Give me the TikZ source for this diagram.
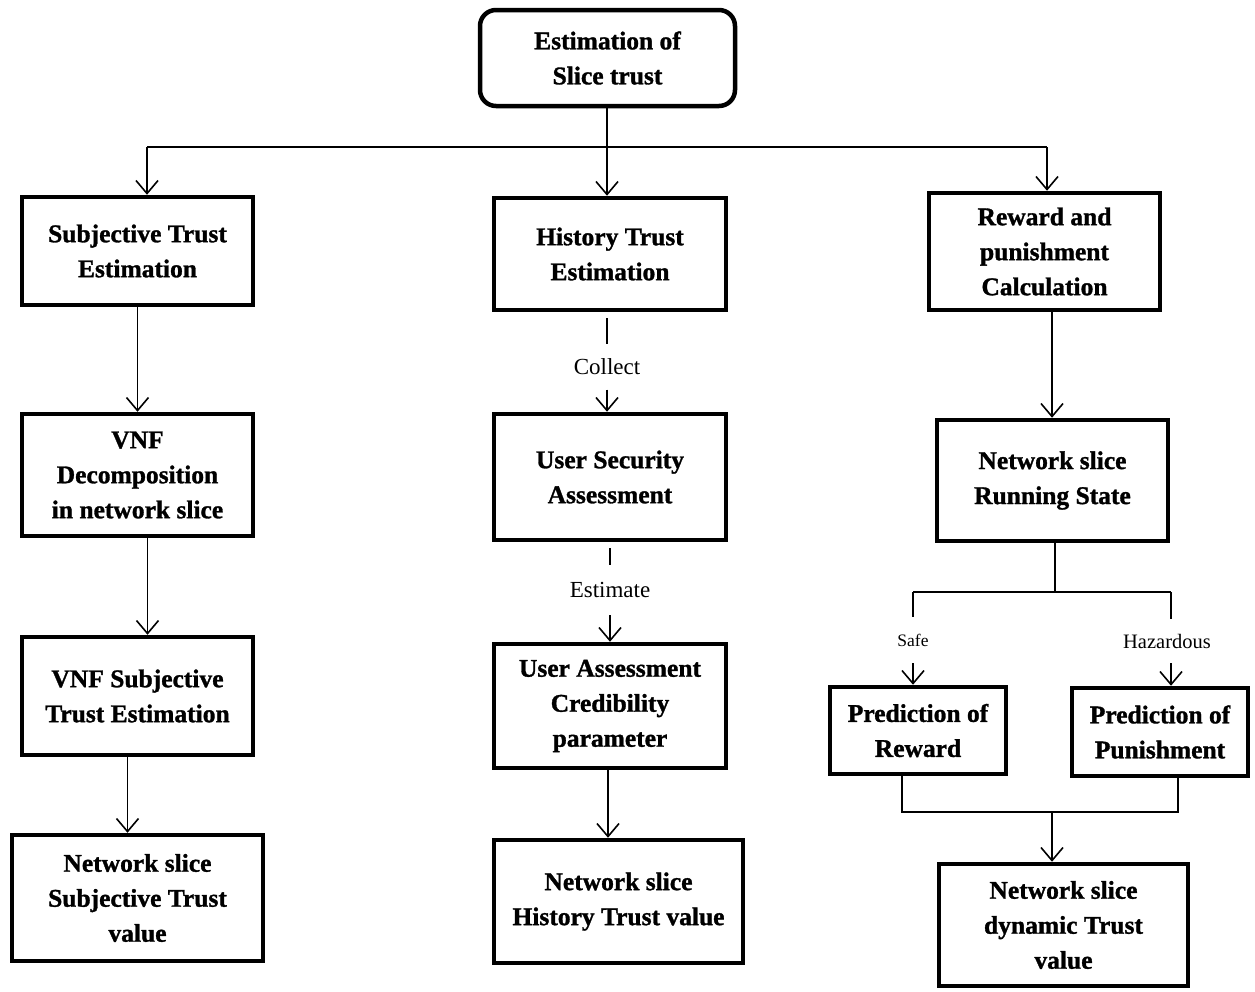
\documentclass[tikz,border=0pt]{standalone}
\usepackage{fontspec}
\setmainfont{Liberation Serif}[BoldFeatures={FakeBold=1.2}]
\usetikzlibrary{arrows.meta}
\tikzset{
  box/.style={draw, line width=4.5pt, align=center, inner sep=2pt,
    font=\bfseries\fontsize{25.5}{35}\selectfont},
  conn/.style={line width=1.6pt},
  arr/.style={conn, -{Straight Barb[length=13pt,width=22pt,line width=1.6pt]}},
  lbl/.style={inner sep=0pt, align=center}
}
\begin{document}
\begin{tikzpicture}[x=1pt,y=-1pt]
\useasboundingbox (0,0) rectangle (1255,991);
% boxes
\node[box, rounded corners=16pt, minimum width=255, minimum height=96] (top) at (607.5,58) {Estimation of\\Slice trust};
\node[box, minimum width=231, minimum height=108] (ste) at (137.5,251) {Subjective Trust\\Estimation};
\node[box, minimum width=231, minimum height=122] (vnfd) at (137.5,475) {VNF\\Decomposition\\in network slice};
\node[box, minimum width=231, minimum height=118] (vnfs) at (137.5,696) {VNF Subjective\\Trust Estimation};
\node[box, minimum width=251, minimum height=126] (nsst) at (137.5,898) {Network slice\\Subjective Trust\\value};
\node[box, minimum width=232, minimum height=112] (hte) at (610,254) {History Trust\\Estimation};
\node[box, minimum width=232, minimum height=126] (usa) at (610,477) {User Security\\Assessment};
\node[box, minimum width=232, minimum height=124] (uacp) at (610,706) {User Assessment\\Credibility\\parameter};
\node[box, minimum width=249, minimum height=123] (nsht) at (618.5,901.5) {Network slice\\History Trust value};
\node[box, minimum width=231, minimum height=117] (rpc) at (1044.5,251.5) {Reward and\\punishment\\Calculation};
\node[box, minimum width=231, minimum height=121] (nsrs) at (1052.5,480.5) {Network slice\\Running State};
\node[box, minimum width=176, minimum height=87] (pr) at (918,730.5) {Prediction of\\Reward};
\node[box, minimum width=176, minimum height=88] (pp) at (1160,732) {Prediction of\\Punishment};
\node[box, minimum width=249, minimum height=122] (nsdt) at (1063.5,925) {Network slice\\dynamic Trust\\value};
% labels
\node[lbl, minimum height=45, font=\fontsize{23}{26}\selectfont] (collect) at (607,367) {Collect};
\node[lbl, minimum height=50, font=\fontsize{23}{26}\selectfont] (estimate) at (610,590) {Estimate};
\node[lbl, minimum height=46, font=\fontsize{17.5}{20}\selectfont] (safe) at (913,640) {Safe};
\node[lbl, minimum height=44, font=\fontsize{20.5}{23}\selectfont] (haz) at (1167,641) {Hazardous};
% top bus
\coordinate (bL) at (147,147);
\coordinate (bR) at (1047,147);
\draw[conn] (bL) -- (bR);
\draw[arr] (top.south -| 607,0) -- (hte.north -| 607,0);
\draw[arr] (bL) -- (bL |- ste.north);
\draw[arr] (bR) -- (bR |- rpc.north);
% left column
\draw[arr] (ste) -- (vnfd);
\draw[arr] ([xshift=10pt]vnfd.south) -- ([xshift=10pt]vnfs.north);
\draw[arr] ([xshift=-10pt]vnfs.south) -- ([xshift=-10pt]nsst.north);
% middle column
\draw[conn] ([yshift=-6pt]hte.south -| collect) -- (collect.north);
\draw[arr] (collect.south) -- (collect.south |- usa.north);
\draw[conn] ([yshift=-6pt]usa.south -| estimate) -- (estimate.north);
\draw[arr] (estimate.south) -- (estimate.south |- uacp.north);
\draw[arr] (uacp.south -| 608,0) -- (nsht.north -| 608,0);
% right column
\draw[arr] (rpc.south -| 1052,0) -- (nsrs.north -| 1052,0);
\coordinate (sL) at (913,592);
\coordinate (sR) at (1171,592);
\draw[conn] (nsrs.south -| 1055,0) -- (sL -| 1055,0);
\draw[conn] (sL) -- (sR);
\draw[conn] (sL) -- (safe.north);
\draw[arr] (safe.south) -- (safe.south |- pr.north);
\draw[conn] (sR) -- (haz.north -| sR);
\draw[arr] (haz.south -| sR) -- (pp.north -| sR);
\coordinate (mL) at (902,812);
\coordinate (mR) at (1178,812);
\coordinate (mC) at (1052,812);
\draw[conn] (pr.south -| mL) -- (mL) -- (mR) -- (pp.south -| mR);
\draw[arr] (mC) -- (mC |- nsdt.north);
\end{tikzpicture}
\end{document}
